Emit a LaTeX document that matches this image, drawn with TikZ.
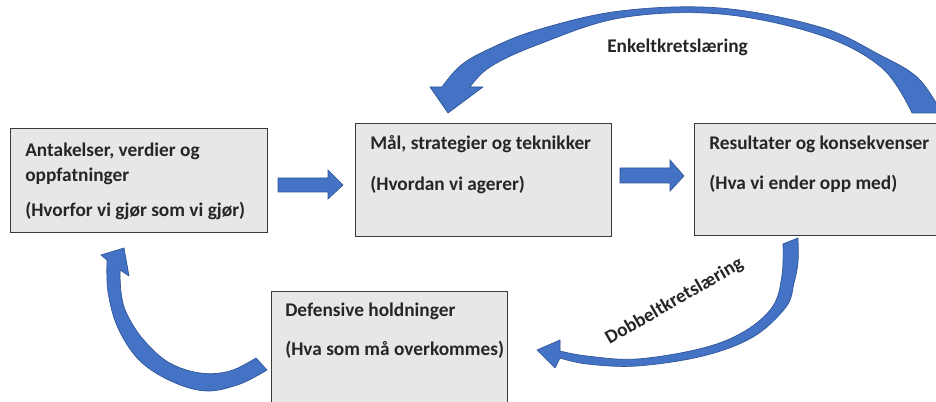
\documentclass[tikz,border=0pt]{standalone}
\usepackage{fontspec}
\setmainfont{Carlito}
\definecolor{ablue}{HTML}{4472C4}
\definecolor{abluedark}{HTML}{2F5597}
\definecolor{boxgray}{HTML}{E7E7E7}
\definecolor{boxline}{HTML}{3A3A3A}
\begin{document}
\begin{tikzpicture}[x=0.75pt,y=-0.75pt,
  box/.style={draw=boxline, fill=boxgray, line width=1.1pt, anchor=north west, inner sep=0pt},
  txt/.style={anchor=base west, inner sep=0pt, font=\fontsize{14.5}{16}\selectfont\bfseries, text=black!85},
  blockarrow/.style={fill=ablue, draw=abluedark, line width=0.5pt, line join=miter},
  curvearrow/.style={fill=ablue, draw=abluedark, line width=0.5pt, line join=round}]
\useasboundingbox (0,0) rectangle (936,402);
\clip (0,0) rectangle (936,402);
\fill[white] (0,0) rectangle (936,402);

% boxes
\node[box, minimum width=192.75pt, minimum height=78pt] (A) at (10,128) {};
\node[box, minimum width=192pt, minimum height=84.75pt] (B) at (355,123) {};
\node[box, minimum width=195pt, minimum height=84pt] (C) at (694,123) {};
\node[box, minimum width=177pt, minimum height=90pt] (D) at (271,291) {};

% texts
\node[txt] (a1) at (25,157) {Antakelser, verdier og};
\node[txt] (a2) at (25,182) {oppfatninger};
\node[txt] (a3) at (25,217) {(Hvorfor vi gjør som vi gjør)};
\node[txt] (b1) at (370,150) {Mål, strategier og teknikker};
\node[txt] (b2) at (370,191) {(Hvordan vi agerer)};
\node[txt] (c1) at (709,150) {Resultater og konsekvenser};
\node[txt] (c2) at (709,190) {(Hva vi ender opp med)};
\node[txt] (d1) at (285,317) {Defensive holdninger};
\node[txt] (d2) at (285,356) {(Hva som må overkommes)};
\node[txt] (e1) at (607,53) {Enkeltkretslæring};
\node[txt, anchor=base, rotate=30] (e2) at (677,306) {Dobbeltkretslæring};

% straight block arrows
\draw[blockarrow] (278,178) -- (328,178) -- (328,170) -- (343,185) -- (328,199) -- (328,192) -- (278,192) -- cycle;
\draw[blockarrow] (620,168) -- (670,168) -- (670,160) -- (684,176) -- (670,191) -- (670,183) -- (620,183) -- cycle;

% top curved arrow (Enkeltkretslaering)
\draw[curvearrow] (912,113) -- (942,113)
  -- plot[smooth, tension=0.6] coordinates {(942,113) (918,78) (880,55) (820,27) (720,8) (620,11) (537,30) (487,50) (460,66) (442,87)}
  -- (430,87) -- (448,113) -- (483,87) -- (470,87)
  -- plot[smooth, tension=0.6] coordinates {(470,87) (490,67) (537,45) (620,18) (720,14) (820,35) (882,68) (912,113)}
  -- cycle;

% lower right curved arrow (Dobbeltkretslaering)
\draw[curvearrow] (783,244) -- (798,238)
  -- plot[smooth, tension=0.6] coordinates {(798,238) (798,262) (794,283) (786,307) (753,337) (703,356) (637,366) (587,364) (560,358)}
  -- (555,368) -- (537,350) -- (560,340) -- (560,351)
  -- plot[smooth, tension=0.6] coordinates {(560,351) (587,356) (637,359) (703,348) (745,331) (773,306) (782,275) (783,244)}
  -- cycle;

% lower left curved arrow
\draw[curvearrow] (256,358) -- (267,370)
  -- plot[smooth, tension=0.6] coordinates {(267,370) (240,384) (207,391) (173,382) (140,361) (118,328) (108,292) (107,260)}
  -- (101,255) -- (124,248) -- (129,276) -- (120,270)
  -- plot[smooth, tension=0.6] coordinates {(120,270) (121,292) (126,312) (142,338) (168,362) (200,373) (230,371) (256,358)}
  -- cycle;
\end{tikzpicture}
\end{document}
